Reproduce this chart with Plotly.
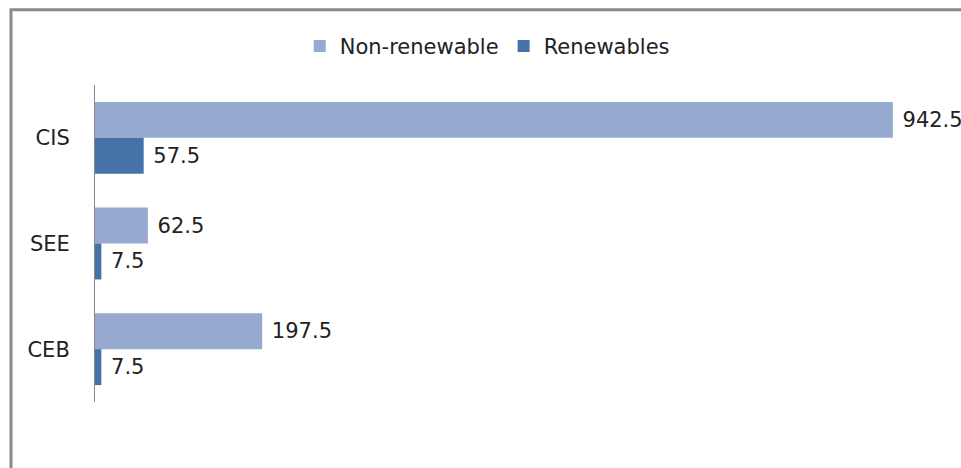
import plotly.graph_objects as go

# Data
regions = ["CIS", "SEE", "CEB"]
non_renewable = [942.5, 62.5, 197.5]
renewables = [57.5, 7.5, 7.5]

FONT = "DejaVu Sans"
SIZE = 21


def labels(values):
    # a little extra room between bar end and its value
    return ["\u00a0" + f"{v:.1f}" for v in values]


fig = go.Figure()

fig.add_trace(go.Bar(
    name="Non-renewable",
    orientation="h",
    y=regions,
    x=non_renewable,
    text=labels(non_renewable),
    textposition="outside",
    cliponaxis=False,
    marker=dict(color="#95A9D1", line=dict(width=0)),
))

fig.add_trace(go.Bar(
    name="Renewables",
    orientation="h",
    y=regions,
    x=renewables,
    text=labels(renewables),
    textposition="outside",
    cliponaxis=False,
    marker=dict(color="#4572A7", line=dict(width=0)),
))

fig.update_layout(
    width=961,
    height=468,
    barmode="group",
    bargap=0.32,
    bargroupgap=0,
    paper_bgcolor="white",
    plot_bgcolor="white",
    margin=dict(l=95, r=0, t=85, b=66),
    font=dict(family=FONT, size=SIZE, color="#222222"),
    uniformtext=dict(minsize=SIZE, mode="show"),
    legend=dict(
        orientation="h",
        xref="container",
        yref="container",
        x=0.507,
        y=0.901,
        xanchor="center",
        yanchor="middle",
        font=dict(family=FONT, size=SIZE, color="#222222"),
        itemwidth=30,
        traceorder="normal",
    ),
    xaxis=dict(
        range=[0, 1023],
        visible=False,
        showgrid=False,
        zeroline=False,
    ),
    yaxis=dict(
        autorange="reversed",
        showline=True,
        linecolor="#888888",
        linewidth=1,
        showgrid=False,
        ticks="",
        ticklabelstandoff=20,
        tickfont=dict(family=FONT, size=SIZE, color="#222222"),
    ),
    shapes=[
        dict(
            type="rect",
            xref="paper",
            yref="paper",
            x0=-0.097,
            x1=1.5,
            y0=-0.5,
            y1=1.237,
            line=dict(color="#8A8A8A", width=3),
            fillcolor="rgba(0,0,0,0)",
            layer="below",
        )
    ],
)

fig.write_html(
    "out.html",
    config=dict(displayModeBar=False),
    post_script="document.body.style.margin='0';",
)
